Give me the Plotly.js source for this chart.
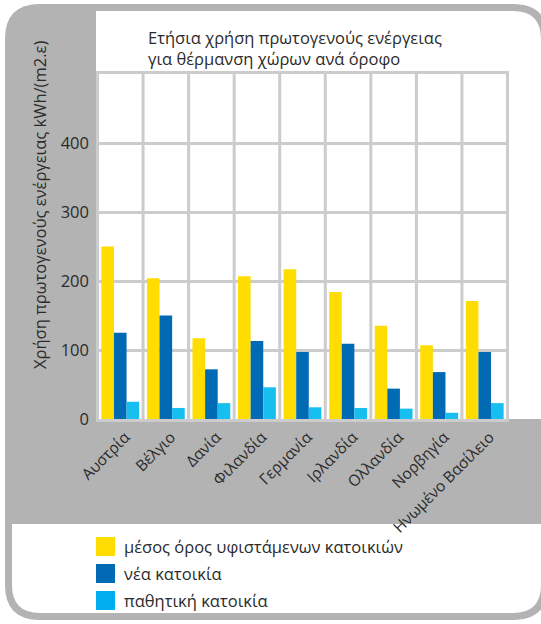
<!DOCTYPE html>
<html>
<head>
<meta charset="utf-8">
<script src="https://cdn.plot.ly/plotly-3.0.1.min.js"></script>
<style>html,body{margin:0;padding:0;background:#fff;}#chart{width:541px;height:624px;}</style>
</head>
<body>
<div id="chart"></div>
<script>
const categories = ['Αυστρία','Βέλγιο','Δανία','Φιλανδία','Γερμανία','Ιρλανδία','Ολλανδία','Νορβηγία','Ηνωμένο Βασίλειο'];
const seriesNames = ['μέσος όρος υφιστάμενων κατοικιών','νέα κατοικία','παθητική κατοικία'];
const existingHomes = [250,204,117,207,217,184,135,107,171];
const newHomes = [125,150,72,113,97,109,44,68,97];
const passiveHomes = [25,16,23,46,17,16,15,9,23];
const yTickVals = [0,100,200,300,400];
const titleText = 'Ετήσια χρήση πρωτογενούς ενέργειας<br>για θέρμανση χώρων ανά όροφο';
const yTitle = 'Χρήση πρωτογενούς ενέργειας kWh/(m2.ε)';

const colors = ['#FFDD00','#006AB4','#16BFF0'];
const legendColors = ['#FFDD00','#006AB4','#00AEEF'];
const W = 541, H = 624;
const L = 96, R = 509, T = 74, B = 419;
const fx = px => ((px - L) / (R - L)).toFixed(5);
const fy = py => ((B - py) / (B - T)).toFixed(5);
const P = (x, y) => fx(x) + ',' + fy(y);
const FONT = 'Open Sans, Noto Sans, sans-serif';
const FS = 16.5;
const TXT = '#2B2B2B';

const seriesData = [existingHomes, newHomes, passiveHomes];
const traces = seriesData.map((vals, i) => ({
  type: 'bar', x: categories, y: vals, name: seriesNames[i],
  marker: {color: colors[i]}, showlegend: false, hoverinfo: 'skip'
}));

const shapes = [];
shapes.push({type:'path', xref:'paper', yref:'paper', layer:'below', line:{width:0}, fillcolor:'#B3B3B3',
  path: 'M'+P(40,4)+' L'+P(513,4)+' Q'+P(548,4)+' '+P(548,39)+' L'+P(548,585)+' Q'+P(548,620)+' '+P(513,620)+
        ' L'+P(40,620)+' Q'+P(5,620)+' '+P(5,585)+' L'+P(5,39)+' Q'+P(5,4)+' '+P(40,4)+' Z'});
shapes.push({type:'path', xref:'paper', yref:'paper', layer:'below', line:{width:0}, fillcolor:'#FFFFFF',
  path: 'M'+P(96,11)+' L'+P(513,11)+' Q'+P(541,11)+' '+P(541,39)+' L'+P(541,419)+' L'+P(96,419)+' Z'});
shapes.push({type:'path', xref:'paper', yref:'paper', layer:'below', line:{width:0}, fillcolor:'#FFFFFF',
  path: 'M'+P(12,524)+' L'+P(541,524)+' L'+P(541,585)+' Q'+P(541,613)+' '+P(513,613)+
        ' L'+P(40,613)+' Q'+P(12,613)+' '+P(12,585)+' Z'});
for (let i = 0; i <= categories.length; i++) {
  shapes.push({type:'line', xref:'x', yref:'paper', x0:i-0.5, x1:i-0.5, y0:0, y1:1,
    line:{color:'#CCCCCC', width:3}, layer:'below'});
}
const annotations = [];
seriesNames.forEach((nm, i) => {
  const top = 537 + 27*i;
  shapes.push({type:'rect', xref:'paper', yref:'paper', x0:fx(96), x1:fx(115), y0:fy(top+19), y1:fy(top),
    fillcolor:legendColors[i], line:{width:0}});
  annotations.push({xref:'paper', yref:'paper', x:fx(122), y:fy(top+9.5), xanchor:'left', yanchor:'middle',
    text:nm, showarrow:false, font:{family:FONT, size:FS, color:TXT}});
});
annotations.push({xref:'paper', yref:'paper', x:fx(40), y:fy(205), xanchor:'center', yanchor:'middle',
  textangle:-90, text:yTitle, showarrow:false, font:{family:FONT, size:FS, color:TXT}});

const layout = {
  width: W, height: H,
  margin: {l:L, r:W-R, t:T, b:H-B, pad:0},
  paper_bgcolor: 'rgba(0,0,0,0)', plot_bgcolor: '#FFFFFF',
  font: {family: FONT, size: FS, color: TXT},
  title: {text: titleText, x: 148/W, xanchor:'left', xref:'container', y: 1-44/H, yanchor:'middle', yref:'container',
    font:{family:FONT, size:FS, color:TXT}},
  barmode: 'group', bargap: 0.17, bargroupgap: 0,
  showlegend: false,
  xaxis: {type:'category', showgrid:false, showline:true, mirror:true, linecolor:'#CCCCCC', linewidth:3,
    tickangle:-45, ticks:'', ticklabelshift:5, ticklabelstandoff:0,
    tickfont:{family:FONT, size:15.5, color:TXT}, fixedrange:true},
  yaxis: {range:[0,500], tickvals:yTickVals, showgrid:true, gridcolor:'#CCCCCC', gridwidth:3, zeroline:false,
    showline:false, ticks:'', ticklabelstandoff:6, tickfont:{family:FONT, size:FS, color:TXT}, fixedrange:true},
  shapes: shapes, annotations: annotations
};
Plotly.newPlot('chart', traces, layout, {staticPlot:true, displayModeBar:false});
</script>
</body>
</html>
